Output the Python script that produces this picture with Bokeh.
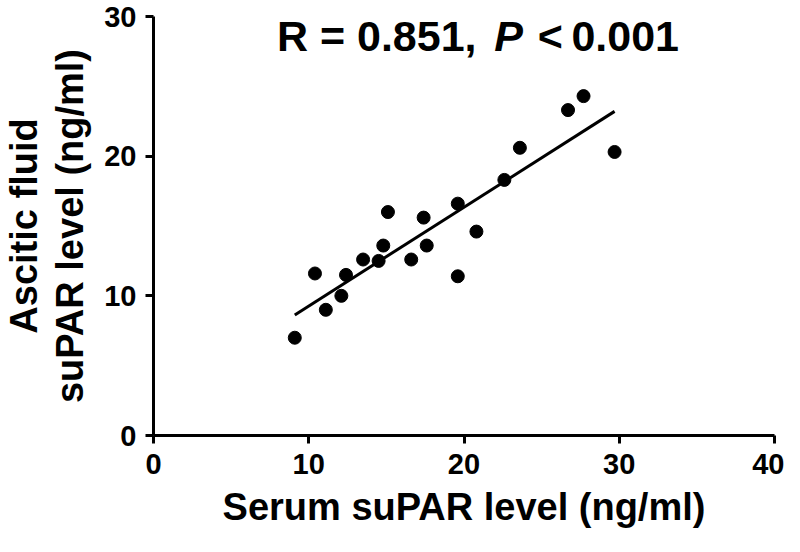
import numpy as np
from bokeh.plotting import figure
from bokeh.models import Label, FixedTicker, Range1d
from bokeh.embed import file_html
from bokeh.resources import INLINE

serum = [9.1, 10.4, 11.1, 12.1, 12.4, 13.5, 14.5, 14.8, 15.1, 16.6,
         17.4, 17.6, 19.6, 19.6, 20.8, 22.6, 23.6, 26.7, 27.7, 29.7]
ascitic = [7.0, 11.6, 9.0, 10.0, 11.5, 12.6, 12.5, 13.6, 16.0, 12.6,
           15.6, 13.6, 16.6, 11.4, 14.6, 18.3, 20.6, 23.3, 24.3, 20.3]
x_ticks = [0, 10, 20, 30, 40]
y_ticks = [0, 10, 20, 30]
x_title = "Serum suPAR level (ng/ml)"
y_title = "Ascitic fluid\nsuPAR level (ng/ml)"

FONT = "Liberation Sans"

p = figure(width=784, height=536, output_backend="svg", toolbar_location=None,
           x_range=Range1d(0, 40), y_range=Range1d(0, 30),
           min_border_left=145, min_border_right=10, min_border_top=16,
           min_border_bottom=101)
p.outline_line_color = None
p.grid.visible = False
p.background_fill_color = "white"
p.border_fill_color = "white"

for ax in (p.xaxis[0], p.yaxis[0]):
    ax.axis_line_width = 3
    ax.axis_line_color = "black"
    ax.major_tick_line_width = 3
    ax.major_tick_line_color = "black"
    ax.major_tick_out = 8
    ax.major_tick_in = 0
    ax.minor_tick_line_color = None
    ax.major_label_text_font = FONT
    ax.major_label_text_font_style = "bold"
    ax.major_label_text_font_size = "29px"
    ax.major_label_text_color = "black"
    ax.axis_label_text_font = FONT
    ax.axis_label_text_font_style = "bold"
    ax.axis_label_text_font_size = "38px"
    ax.axis_label_text_color = "black"

p.yaxis.axis_label_text_line_height = 1.1
p.xaxis.ticker = FixedTicker(ticks=x_ticks)
p.yaxis.ticker = FixedTicker(ticks=y_ticks)
p.xaxis.axis_label = x_title
p.yaxis.axis_label = y_title
p.xaxis.major_label_standoff = 10
p.yaxis.major_label_standoff = 9
p.xaxis.axis_label_standoff = 9
p.yaxis.axis_label_standoff = 10

# regression line (least-squares fit of the data)
slope, intercept = np.polyfit(serum, ascitic, 1)
xs = np.array([min(serum), max(serum)])
p.line(xs, slope * xs + intercept, line_width=3, line_color="black")

p.scatter(serum, ascitic, size=13, fill_color="black", line_color="black")

# statistic title
common = dict(text_font=FONT, text_font_size="43px", text_color="black",
              text_baseline="alphabetic", y=28.6)
p.add_layout(Label(x=7.95, text="R = 0.851,", text_font_style="bold",
                   text_align="left", **common))
p.add_layout(Label(x=21.95, text="P", text_font_style="bold italic",
                   text_align="left", **common))
p.add_layout(Label(x=24.75, text="<", text_font_style="bold",
                   text_align="left", **common))
p.add_layout(Label(x=33.85, text="0.001", text_font_style="bold",
                   text_align="right", **common))

open("out.html", "w").write(file_html(p, INLINE))
